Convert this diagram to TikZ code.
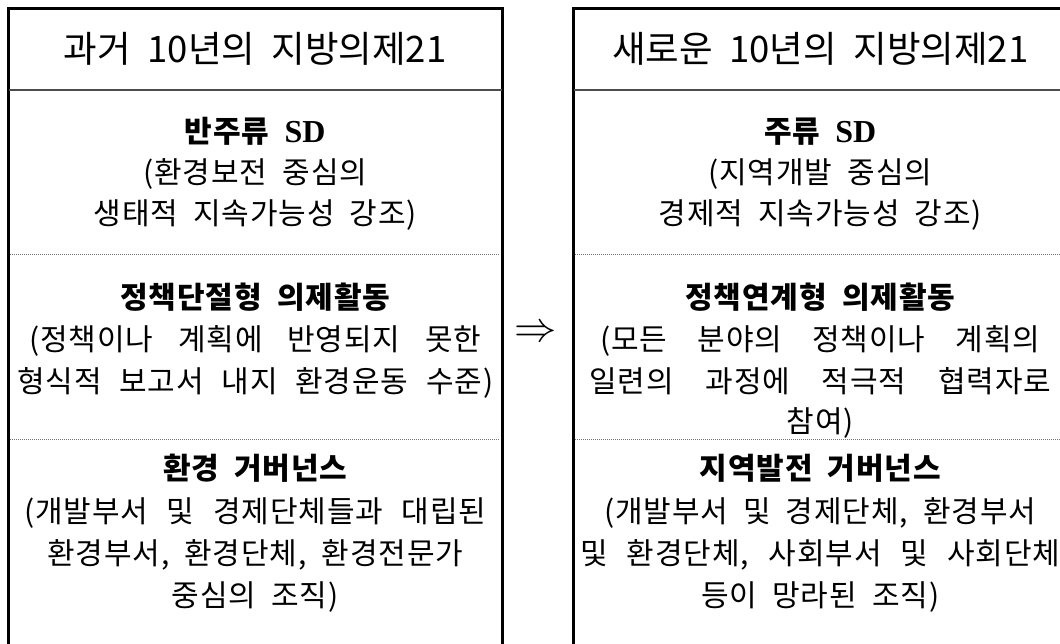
\documentclass[tikz,border=0pt]{standalone}
\usepackage{fontspec}
\setmainfont{Liberation Serif}
\newfontfamily\kr{Noto Sans CJK KR}
\newfontfamily\krl[LetterSpace=3]{Noto Sans CJK KR}
\newcommand\headfont{\kr\fontsize{36.5}{36.5}\selectfont\spaceskip=0.45em\relax}
\newcommand\ttlfont{\krl\bfseries\fontsize{30}{30}\selectfont\spaceskip=0.5em\relax}
\newcommand\bodyfont{\krl\fontsize{30}{30}\selectfont\spaceskip=0.5em\relax}
\newcommand\jl[2]{\hbox to #1{\spaceskip=0.5em plus 1fil minus 0.4em\relax #2}}
\newcommand\sd{{\rmfamily\fontsize{32}{32}\selectfont SD}}
\begin{document}
\begin{tikzpicture}[x=1pt,y=-1pt,
  frame/.style={line width=3pt, line cap=rect},
  hsep/.style={line width=1.2pt, draw=black!70},
  dsep/.style={line width=0.9pt, draw=black!55, dash pattern=on 1pt off 1pt},
  head/.style={font=\headfont, anchor=base, inner sep=0pt},
  ttl/.style={font=\ttlfont, anchor=base, inner sep=0pt},
  body/.style={font=\bodyfont, anchor=base, inner sep=0pt},
  arr/.style={font=\fontsize{24}{24}\selectfont, inner sep=0pt, scale=1.7},
]
\useasboundingbox (0,0) rectangle (1060,643);
\begin{scope}
\clip (0,0) rectangle (1060,643);
% frames
\draw[frame] (8.5,700) -- (8.5,8.5) -- (502,8.5) -- (502,700);
\draw[frame] (573.5,700) -- (573.5,8.5) -- (1067,8.5) -- (1067,700);
% separators
\draw[hsep] (8.5,90) -- (502,90);
\draw[hsep] (573.5,90) -- (1067,90);
\draw[dsep] (10,254) -- (500,254);
\draw[dsep] (575,254) -- (1060,254);
\draw[dsep] (10,439) -- (500,439);
\draw[dsep] (575,439) -- (1060,439);
\end{scope}
% headers
\node[head] (lh) at (255.25,62.5) {과거 10년의 지방의제21};
\node[head] (rh) at (820.25,62.5) {새로운 10년의 지방의제21};
% left section 1
\node[ttl]  (l1a) at (255.25,142) {반주류 \sd};
\node[body] (l1b) at (255.25,183) {(환경보전 중심의};
\node[body] (l1c) at (255.25,224) {생태적 지속가능성 강조)};
% left section 2
\node[ttl]  (l2a) at (255.25,308) {정책단절형 의제활동};
\node[body] (l2b) at (255.25,350) {\jl{452pt}{(정책이나 계획에 반영되지 못한}};
\node[body] (l2c) at (255.25,392) {\jl{476pt}{형식적 보고서 내지 환경운동 수준)}};
% left section 3
\node[ttl]  (l3a) at (255.25,479) {환경 거버넌스};
\node[body] (l3b) at (255.25,522) {\jl{462pt}{(개발부서 및 경제단체들과 대립된}};
\node[body] (l3c) at (255.25,564) {환경부서, 환경단체, 환경전문가};
\node[body] (l3d) at (255.25,606) {중심의 조직)};
% right section 1
\node[ttl]  (r1a) at (820.25,142) {주류 \sd};
\node[body] (r1b) at (820.25,183) {(지역개발 중심의};
\node[body] (r1c) at (820.25,224) {경제적 지속가능성 강조)};
% right section 2
\node[ttl]  (r2a) at (820.25,308) {정책연계형 의제활동};
\node[body] (r2b) at (820.25,350) {\jl{440pt}{(모든 분야의 정책이나 계획의}};
\node[body] (r2c) at (820.25,392) {\jl{462pt}{일련의 과정에 적극적 협력자로}};
\node[body] (r2d) at (820.25,432) {참여)};
% right section 3
\node[ttl]  (r3a) at (820.25,479) {지역발전 거버넌스};
\node[body] (r3b) at (820.25,522) {(개발부서 및 경제단체, 환경부서};
\node[body] (r3c) at (820.25,564) {\jl{480pt}{및 환경단체, 사회부서 및 사회단체}};
\node[body] (r3d) at (820.25,606) {등이 망라된 조직)};
% arrow
\node[arr] (ar) at (535.5,334) {$\Rightarrow$};
\end{tikzpicture}
\end{document}
